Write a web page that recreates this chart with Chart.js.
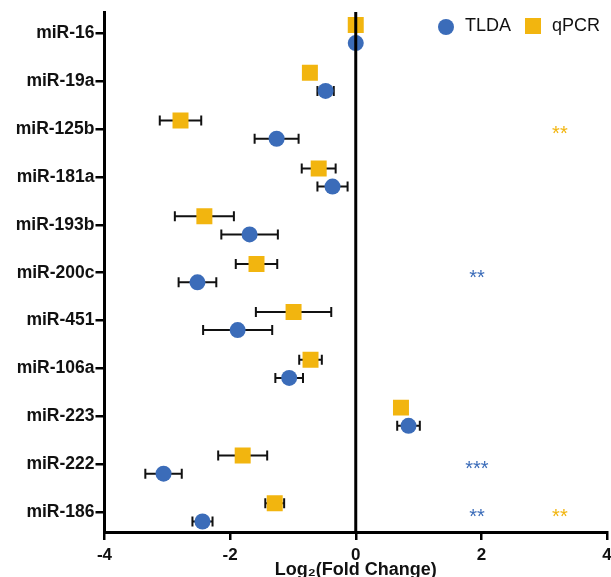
<!DOCTYPE html>
<html>
<head>
<meta charset="utf-8">
<script src="https://cdn.jsdelivr.net/npm/chart.js@4/dist/chart.umd.min.js"></script>
<style>
  html, body { margin: 0; padding: 0; background: #fff; }
</style>
</head>
<body>
<canvas id="foldChart" width="611" height="577"></canvas>
<script>
// miRNAs, top to bottom
const mirnas = ['miR-16', 'miR-19a', 'miR-125b', 'miR-181a', 'miR-193b', 'miR-200c',
                'miR-451', 'miR-106a', 'miR-223', 'miR-222', 'miR-186'];

// Log2 fold change and error (half width of the bar)
const tldaValues = [0, -0.48, -1.26, -0.37, -1.69, -2.52, -1.88, -1.06, 0.84, -3.06, -2.44];
const tldaErrors = [0, 0.13, 0.35, 0.24, 0.45, 0.30, 0.55, 0.22, 0.18, 0.29, 0.16];
const qpcrValues = [0, -0.73, -2.79, -0.59, -2.41, -1.58, -0.99, -0.72, 0.72, -1.80, -1.29];
const qpcrErrors = [0, 0, 0.33, 0.27, 0.47, 0.33, 0.60, 0.18, 0, 0.39, 0.15];

// significance marks
const tldaStars = ['', '', '', '', '', '**', '', '', '', '***', '**'];
const qpcrStars = ['', '', '**', '', '', '', '', '', '', '', '**'];

const xTicks = [-4, -2, 0, 2, 4];

const blue = '#3b6cb9';
const orange = '#f2b50f';
const ink = '#111';
Chart.defaults.font.family = '"Liberation Sans", Arial, sans-serif';

// horizontal error bars, drawn under the markers
const errorBars = {
    id: 'errorBars',
    beforeDatasetsDraw(chart) {
        const { ctx, scales: { x, y } } = chart;
        ctx.save();
        ctx.strokeStyle = ink;
        ctx.lineWidth = 2;
        chart.data.datasets.forEach(ds => {
            ds.data.forEach((pt, i) => {
                const err = ds.errors[i];
                if (!err) return;
                const x0 = x.getPixelForValue(pt.x - err);
                const x1 = x.getPixelForValue(pt.x + err);
                const py = y.getPixelForValue(pt.y);
                ctx.beginPath();
                ctx.moveTo(x0, py); ctx.lineTo(x1, py);
                ctx.moveTo(x0, py - 5); ctx.lineTo(x0, py + 5);
                ctx.moveTo(x1, py - 5); ctx.lineTo(x1, py + 5);
                ctx.stroke();
            });
        });
        ctx.restore();
    }
};

// zero line on top of the markers, then stars and legend
const overlay = {
    id: 'overlay',
    afterDatasetsDraw(chart) {
        const { ctx, chartArea, scales: { x, y } } = chart;
        ctx.save();
        const x0 = x.getPixelForValue(0);
        ctx.strokeStyle = '#000';
        ctx.lineWidth = 3;
        ctx.beginPath();
        ctx.moveTo(x0, chartArea.top);
        ctx.lineTo(x0, chartArea.bottom);
        ctx.stroke();

        // asterisks
        ctx.font = '20px "Liberation Sans", Arial, sans-serif';
        ctx.textAlign = 'center';
        ctx.textBaseline = 'alphabetic';
        mirnas.forEach((m, i) => {
            const py = y.getPixelForValue(i) + 11;
            if (tldaStars[i]) {
                ctx.fillStyle = blue;
                ctx.fillText(tldaStars[i], x.getPixelForValue(1.93), py);
            }
            if (qpcrStars[i]) {
                ctx.fillStyle = orange;
                ctx.fillText(qpcrStars[i], x.getPixelForValue(3.25), py);
            }
        });

        // legend
        ctx.font = '18px "Liberation Sans", Arial, sans-serif';
        ctx.textAlign = 'left';
        ctx.textBaseline = 'middle';
        const ly = 26;
        ctx.fillStyle = blue;
        ctx.beginPath();
        ctx.arc(446, ly + 1, 8, 0, Math.PI * 2);
        ctx.fill();
        ctx.fillStyle = ink;
        ctx.fillText(chart.data.datasets[0].label, 465, ly);
        ctx.fillStyle = orange;
        ctx.fillRect(525, ly - 8, 16, 16);
        ctx.fillStyle = ink;
        ctx.fillText(chart.data.datasets[1].label, 552, ly);
        ctx.restore();
    }
};

const ctx = document.getElementById('foldChart').getContext('2d');
new Chart(ctx, {
    type: 'scatter',
    data: {
        datasets: [
            {
                label: 'TLDA',
                data: tldaValues.map((v, i) => ({ x: v, y: i + 0.2 })),
                errors: tldaErrors,
                pointStyle: 'circle',
                pointRadius: 8,
                backgroundColor: blue,
                borderWidth: 0
            },
            {
                label: 'qPCR',
                data: qpcrValues.map((v, i) => ({ x: v, y: i - 0.18 })),
                errors: qpcrErrors,
                pointStyle: 'rect',
                pointRadius: 11.3,
                backgroundColor: orange,
                borderWidth: 0
            }
        ]
    },
    options: {
        responsive: false,
        animation: false,
        events: [],
        layout: { autoPadding: false, padding: { top: 12, right: 4, left: 0, bottom: 0 } },
        plugins: {
            legend: { display: false },
            tooltip: { enabled: false }
        },
        scales: {
            x: {
                type: 'linear',
                min: -4,
                max: 4,
                afterBuildTicks: s => { s.ticks = xTicks.map(v => ({ value: v })); },
                ticks: { color: ink, font: { size: 17, weight: 'bold' }, padding: 5 },
                grid: { drawOnChartArea: false, tickLength: 8, color: '#000', lineWidth: 2.5 },
                border: { color: '#000', width: 3 },
                title: {
                    display: true,
                    text: 'Log₂(Fold Change)',
                    color: ink,
                    font: { size: 18, weight: 'bold', lineHeight: 0.78 },
                    padding: 0
                },
                afterFit: s => { s.height = 45; s.paddingLeft = 0; s.paddingRight = 0; }
            },
            y: {
                type: 'linear',
                reverse: true,
                min: -0.45,
                max: 10.42,
                afterBuildTicks: s => { s.ticks = mirnas.map((m, i) => ({ value: i })); },
                ticks: {
                    autoSkip: false,
                    color: ink,
                    font: { size: 17.5, weight: 'bold' },
                    padding: 1,
                    callback: (v, i) => mirnas[i]
                },
                grid: { drawOnChartArea: false, tickLength: 9, color: '#000', lineWidth: 2.5 },
                border: { color: '#000', width: 3 },
                afterFit: s => { s.width = 104.5; s.paddingTop = 0; s.paddingBottom = 0; }
            }
        }
    },
    plugins: [errorBars, overlay]
});
</script>
</body>
</html>
